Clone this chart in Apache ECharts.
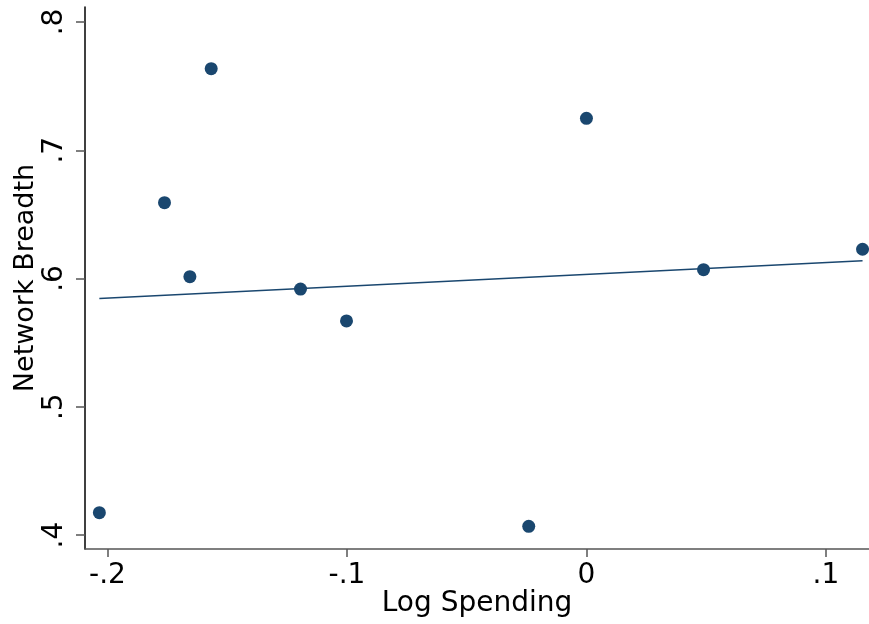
<!DOCTYPE html>
<html>
<head>
<meta charset="utf-8">
<script src="https://cdn.jsdelivr.net/npm/echarts@6/dist/echarts.min.js"></script>
<style>
html, body { margin: 0; padding: 0; background: #fff; }
#main { width: 869px; height: 624px; }
</style>
</head>
<body>
<div id="main"></div>
<script>
// scatter points
var logSpending = [-0.2034, -0.1762, -0.1656, -0.1567, -0.1194, -0.1002, -0.0241, 0.0, 0.0489, 0.1153];
var networkBreadth = [0.4174, 0.6591, 0.6014, 0.7636, 0.5918, 0.5669, 0.4068, 0.7249, 0.6069, 0.6228];
// fitted line end points
var fitX = [-0.2034, 0.1153];
var fitY = [0.5844, 0.6139];
var xTicks = [-0.2, -0.1, 0, 0.1];
var yTicks = [0.4, 0.5, 0.6, 0.7, 0.8];

var navy = '#1a476f';
var font = 'DejaVu Sans';

function stataNum(v) {
    if (v === 0) return '0';
    var s = String(Math.round(v * 10) / 10);
    return s.replace('0.', '.');
}

var points = [];
for (var i = 0; i < logSpending.length; i++) {
    points.push([logSpending[i], networkBreadth[i]]);
}
var fitLine = [];
for (var j = 0; j < fitX.length; j++) {
    fitLine.push([fitX[j], fitY[j]]);
}

var dom = document.getElementById('main');
var myChart = echarts.init(dom);
var option = {
    animation: false,
    backgroundColor: '#fff',
    textStyle: { fontFamily: font },
    grid: {
        left: 85, right: 0, top: 7, bottom: 75,
        containLabel: false,
        outerBoundsMode: 'none'
    },
    xAxis: {
        type: 'value',
        min: -0.2094,
        max: 0.118,
        name: 'Log Spending',
        nameLocation: 'middle',
        nameGap: 41,
        nameMoveOverlap: false,
        nameTextStyle: { fontSize: 28, color: '#000', fontFamily: font },
        splitLine: { show: false },
        axisLine: { onZero: false, lineStyle: { color: '#555', width: 1.5 } },
        axisTick: { length: 8, customValues: xTicks, lineStyle: { color: '#555', width: 1.5 } },
        axisLabel: {
            customValues: xTicks,
            margin: 13,
            fontSize: 28,
            color: '#000',
            fontFamily: font,
            formatter: stataNum
        }
    },
    yAxis: {
        type: 'value',
        min: 0.3891,
        max: 0.8117,
        name: 'Network Breadth',
        nameLocation: 'middle',
        nameGap: 46,
        nameRotate: 90,
        nameMoveOverlap: false,
        nameTextStyle: { fontSize: 27, color: '#000', fontFamily: font },
        splitLine: { show: false },
        axisLine: { onZero: false, lineStyle: { color: '#000', width: 1.5 } },
        axisTick: { length: 9, customValues: yTicks, lineStyle: { color: '#555', width: 1.5 } },
        axisLabel: {
            customValues: yTicks,
            rotate: 90,
            margin: 16,
            fontSize: 28,
            color: '#000',
            fontFamily: font,
            formatter: stataNum
        }
    },
    series: [{
        name: 'Network Breadth',
        type: 'scatter',
        symbol: 'circle',
        symbolSize: 13,
        itemStyle: { color: navy, opacity: 1 },
        data: points
    }, {
        name: 'Fitted values',
        type: 'line',
        symbol: 'none',
        lineStyle: { color: navy, width: 1.6 },
        data: fitLine
    }]
};
myChart.setOption(option, true);
</script>
</body>
</html>
